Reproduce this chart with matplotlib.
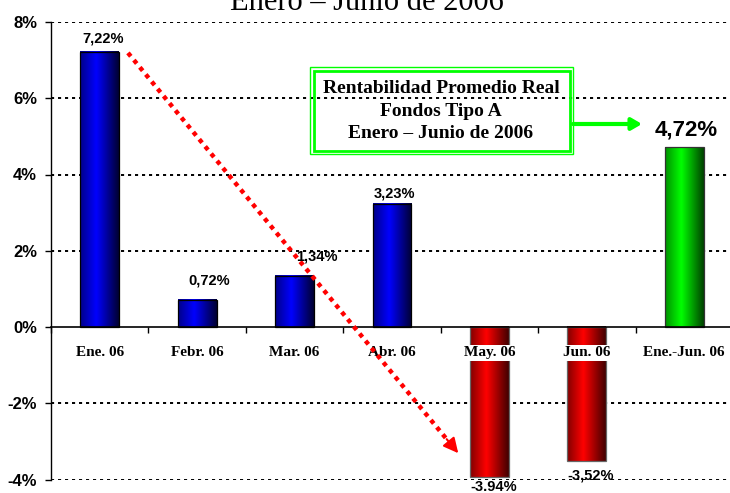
import matplotlib
matplotlib.use("Agg")
import matplotlib.pyplot as plt
import numpy as np
from matplotlib.colors import LinearSegmentedColormap
from matplotlib.patches import Rectangle

# ---- data ----
categories = ["Ene. 06", "Febr. 06", "Mar. 06", "Abr. 06", "May. 06", "Jun. 06", "Ene.-Jun. 06"]
values = [7.22, 0.72, 1.34, 3.23, -3.94, -3.52, 4.72]
value_labels = ["7,22%", "0,72%", "1,34%", "3,23%", "-3.94%", "-3,52%", "4,72%"]
yticks = [-4, -2, 0, 2, 4, 6, 8]
box_text = "Rentabilidad Promedio Real\nFondos Tipo A\nEnero – Junio de 2006"
title = "Enero – Junio de 2006"

# label offsets in pixels (x, y) relative to bar end
lab_dx = [3.5, 12.5, 22, 2, 4.5, 4, 1.5]
lab_dy = [9.3, 15, 15, 6, -3, -7, 12]

W, H = 730, 493
fig = plt.figure(figsize=(W / 100, H / 100), dpi=100)
ax = fig.add_axes([51 / W, (H - 479.5) / H, 682 / W, 457.5 / H])

sans = "Liberation Sans"
serif = "Liberation Serif"

# gradient colour maps (dark edge -> bright -> darker edge)
cmaps = {
    "blue": LinearSegmentedColormap.from_list("b", [(0, "#000088"), (0.42, "#0000FF"), (1, "#000030")]),
    "red": LinearSegmentedColormap.from_list("r", [(0, "#800000"), (0.42, "#FF0000"), (1, "#400000")]),
    "green": LinearSegmentedColormap.from_list("g", [(0, "#009000"), (0.42, "#00FF00"), (1, "#004000")]),
}
edges = {"blue": "#000000", "red": "#666666", "green": "#333333"}

x = np.arange(len(categories))
grad = np.linspace(0, 1, 256).reshape(1, -1)
for i, v in enumerate(values):
    if i == len(values) - 1:
        c = "green"
    elif v < 0:
        c = "red"
    else:
        c = "blue"
    bar = ax.bar(x[i], v, width=0.4, facecolor="none", edgecolor=edges[c], lw=0.9, zorder=1.2)[0]
    x0, y0 = bar.get_x(), bar.get_y()
    ax.imshow(grad, cmap=cmaps[c], extent=[x0, x0 + bar.get_width(), y0, y0 + bar.get_height()],
              aspect="auto", interpolation="bicubic", zorder=1)

# dotted gridlines (behind bars)
for t in yticks:
    if t != 0:
        ax.axhline(t, color="black", lw=1.4, ls=(0, (1.6, 2.0)), zorder=0.5)

ax.set_xlim(-0.5, len(categories) - 0.5)
ax.set_ylim(-4, 8)
ax.set_axisbelow(False)

for s in ["top", "right"]:
    ax.spines[s].set_visible(False)
ax.spines["bottom"].set_position(("data", 0))
ax.spines["bottom"].set_linewidth(1.2)
ax.spines["left"].set_linewidth(1.0)

ax.set_yticks(yticks)
ax.set_yticklabels([f"{t}%" for t in yticks], fontfamily=sans, fontweight="bold", fontsize=12)
ax.tick_params(axis="y", direction="out", length=4, width=1, pad=6)

ax.set_xticks(np.arange(-0.5, len(categories), 1))
ax.set_xticklabels([])
ax.set_xticks(x, minor=True)
ax.set_xticklabels(categories, minor=True, fontfamily=serif, fontweight="bold", fontsize=11)
ax.tick_params(axis="x", which="major", direction="out", length=4, width=1)
ax.tick_params(axis="x", which="minor", length=0, pad=14)
for lbl in ax.get_xticklabels(minor=True):
    lbl.set_bbox(dict(facecolor="white", edgecolor="none", pad=1))

# value labels
for i, v in enumerate(values):
    big = i == len(values) - 1
    ax.annotate(value_labels[i], xy=(x[i], v), xytext=(lab_dx[i] * 0.72, lab_dy[i] * 0.72),
                textcoords="offset points", ha="center", va="baseline" if v > 0 else "top",
                fontfamily=sans, fontweight="bold", fontsize=16 if big else 10.5, zorder=5)

# red dotted trend arrow
xs, ys = 0.29, 7.19
xe, ye = 3.68, -3.31
t = 0.965
xm, ym = xs + t * (xe - xs), ys + t * (ye - ys)
ax.plot([xs, xm], [ys, ym], color="red", lw=3.2, ls=(0, (1, 1.1)), zorder=4)
ax.annotate("", xy=(xe, ye), xytext=(xm, ym),
            arrowprops=dict(arrowstyle="-|>,head_length=0.9,head_width=0.45", color="red",
                            lw=1.5, shrinkA=0, shrinkB=0), zorder=4)

# title (partly cut off at the top, as in the original)
fig.text(367 / W, 1 - 10 / H, title, ha="center", va="baseline", fontsize=22, family=serif)

# green double-bordered box
def px_rect(x0, y0, x1, y1, lw):
    return Rectangle((x0 / W, 1 - y1 / H), (x1 - x0) / W, (y1 - y0) / H, transform=fig.transFigure,
                     fill=False, edgecolor="#00FF00", lw=lw)

fig.patches.append(px_rect(310, 67, 573, 154, 1.0))
fig.patches.append(px_rect(313.5, 70.5, 569.5, 150.5, 2.0))
fig.text(441 / W, 1 - 111 / H, box_text, ha="center", va="center", fontsize=14,
         fontweight="bold", family=serif, linespacing=1.4)

ax.annotate("", xy=(642, H - 124), xytext=(573, H - 124), xycoords="figure pixels",
            textcoords="figure pixels",
            arrowprops=dict(arrowstyle="-|>,head_length=0.6,head_width=0.35", color="#00FF00",
                            lw=3, shrinkA=0, shrinkB=0))

fig.savefig("out.png", dpi=100)
